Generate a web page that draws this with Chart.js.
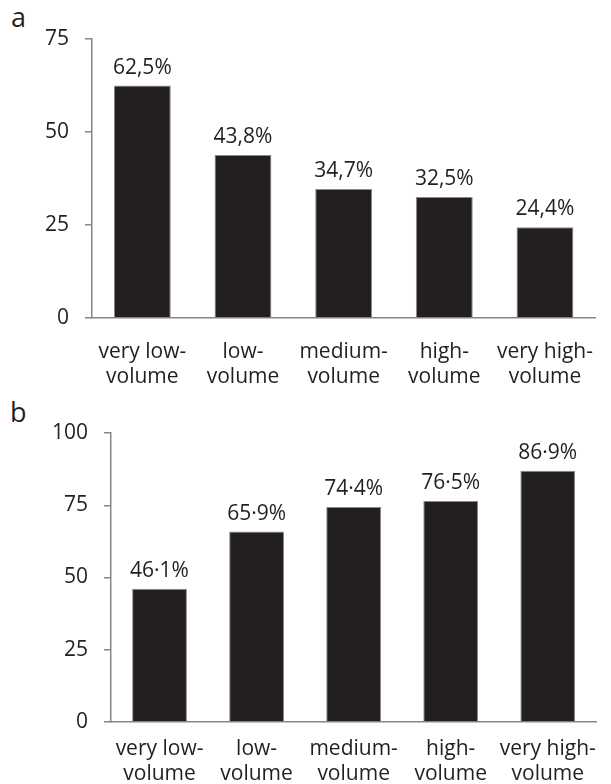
<!DOCTYPE html>
<html>
<head>
<meta charset="utf-8">
<script src="https://cdn.jsdelivr.net/npm/chart.js@4.4.0/dist/chart.umd.min.js"></script>
<style>
  html, body { margin: 0; padding: 0; background: #fff; overflow: hidden; }
  body { width: 611px; height: 784px; position: relative; }
  canvas { position: absolute; left: 0; }
  #grafiekA { top: 0; }
  #grafiekB { top: 395px; }
  .paneel { position: absolute; font-family: "Open Sans", sans-serif; font-size: 27px; color: #231f20; line-height: 1; }
</style>
</head>
<body>
<div class="paneel" style="left:11px; top:3px;">a</div>
<div class="paneel" style="left:10px; top:398px;">b</div>
<canvas id="grafiekA" width="614" height="395"></canvas>
<canvas id="grafiekB" width="611" height="389"></canvas>
<script>
// data
var categorieen = [['very low-', 'volume'], ['low-', 'volume'], ['medium-', 'volume'], ['high-', 'volume'], ['very high-', 'volume']];
var waardenA = [62.5, 43.8, 34.7, 32.5, 24.4];
var waardenB = [46.1, 65.9, 74.4, 76.5, 86.9];
var maxA = 75;
var maxB = 100;
var stapGrootte = 25;

var tekstKleur = '#231f20';
var asKleur = '#868686';
var lettertype = '"Open Sans", sans-serif';

Chart.defaults.font.family = lettertype;
Chart.defaults.font.size = 21;
Chart.defaults.color = tekstKleur;

// percentages boven de staven
var waardeLabels = {
  id: 'waardeLabels',
  afterDatasetsDraw: function(chart, args, opts) {
    var ctx = chart.ctx;
    var meta = chart.getDatasetMeta(0);
    ctx.save();
    ctx.font = '21px ' + lettertype;
    ctx.fillStyle = tekstKleur;
    ctx.textAlign = 'center';
    ctx.textBaseline = 'alphabetic';
    meta.data.forEach(function(bar, i) {
      var v = chart.data.datasets[0].data[i];
      ctx.fillText(opts.format(v), bar.x, bar.y - 12);
    });
    ctx.restore();
  }
};

function staafdiagram(id, waarden, max, asBreedte, asHoogte, padding, formaat) {
  var ctx = document.getElementById(id);
  return new Chart(ctx, {
    type: 'bar',
    data: {
      labels: categorieen,
      datasets: [{
        data: waarden,
        backgroundColor: tekstKleur,
        borderColor: '#8a8a8a',
        borderWidth: 1,
        barPercentage: 0.565,
        categoryPercentage: 1
      }]
    },
    options: {
      responsive: false,
      animation: false,
      layout: { padding: padding },
      plugins: {
        legend: { display: false },
        tooltip: { enabled: false },
        waardeLabels: { format: formaat }
      },
      scales: {
        x: {
          afterFit: function(scale) { scale.height = asHoogte; },
          grid: { display: false, drawTicks: false },
          border: { display: true, color: asKleur, width: 1.5 },
          ticks: { padding: padding.xPad, maxRotation: 0, autoSkip: false, font: { size: 21, lineHeight: 1.22 } }
        },
        y: {
          min: 0,
          max: max,
          afterFit: function(scale) { scale.width = asBreedte; },
          grid: { drawOnChartArea: false, drawTicks: true, tickLength: 7, color: asKleur, lineWidth: 1.5 },
          border: { display: true, color: asKleur, width: 1.5 },
          ticks: { stepSize: stapGrootte, padding: 16, font: { size: 21 } }
        }
      }
    },
    plugins: [waardeLabels]
  });
}

window.onload = function() {
  staafdiagram('grafiekA', waardenA, maxA, 92, 77, { top: 39, right: 0, bottom: 0, left: 0, xPad: 21 }, function(v) {
    return v.toFixed(1).replace('.', ',') + '%';
  });
  staafdiagram('grafiekB', waardenB, maxB, 111, 62, { top: 38, right: 12, bottom: 0, left: 0, xPad: 14 }, function(v) {
    return v.toFixed(1).replace('.', '\u00b7') + '%';
  });
};
</script>
</body>
</html>
